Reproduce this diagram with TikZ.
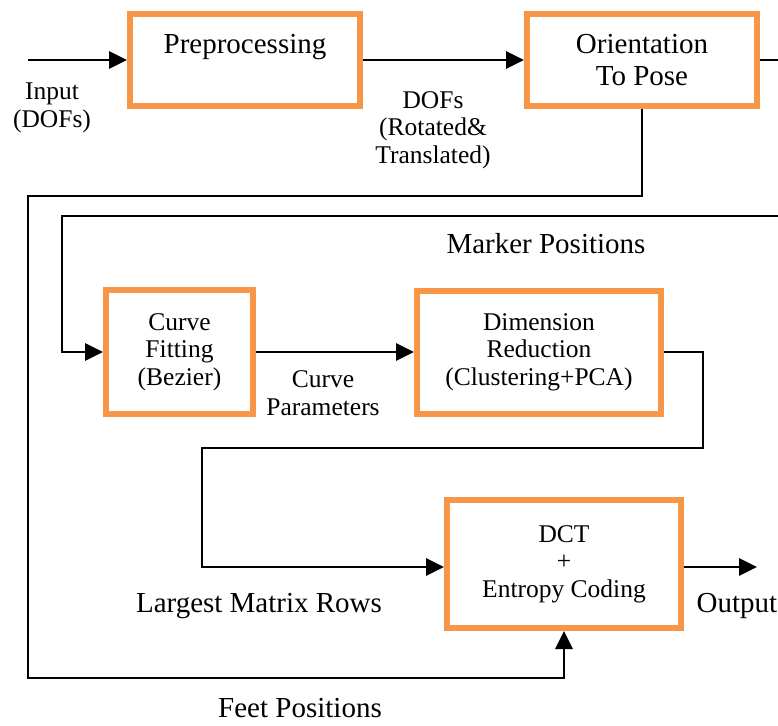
\documentclass[tikz,border=0pt]{standalone}
\usepackage{fontspec}
\setmainfont{Liberation Serif}
\usetikzlibrary{arrows.meta}
\definecolor{boxorange}{RGB}{247,150,70}
\tikzset{
  big/.style={font=\fontsize{29}{32}\selectfont, align=center, inner sep=0pt},
  small/.style={font=\fontsize{25.5}{27.5}\selectfont, align=center, inner sep=0pt},
  stagebox/.style={draw=boxorange, line width=6pt, fill=white, rectangle, inner sep=0pt},
  wire/.style={draw=black, line width=2.8pt},
  flow/.style={wire, -{Triangle[length=18pt,width=17pt]}},
}
\begin{document}
\begin{tikzpicture}[x=1pt,y=-1pt]
\useasboundingbox (0,0) rectangle (778,725);

% processing stages
\node[stagebox, big, minimum width=230pt, minimum height=92pt] (pre) at (245,60) {Preprocessing\\\phantom{P}};
\node[stagebox, big, minimum width=230pt, minimum height=92pt] (orient) at (642,60) {Orientation\\To Pose};
\node[stagebox, small, minimum width=147pt, minimum height=124pt] (curve) at (179.5,352) {Curve\\Fitting\\(Bezier)};
\node[stagebox, small, minimum width=244pt, minimum height=123pt] (dim) at (539,352) {Dimension\\Reduction\\(Clustering+PCA)};
\node[stagebox, small, minimum width=234pt, minimum height=128pt] (dct) at (564,564) {DCT\\+\\Entropy Coding};

% free ends of the connectors
\coordinate (in) at (28,60);
\coordinate (outR) at (778,60);
\coordinate (mk) at (778,216);
\coordinate (out) at (757,567);

% main chain
\draw[flow] (in) -- (pre.west);
\draw[flow] (pre.east) -- (orient.west);
\draw[wire] (orient.east) -- (outR);

% feet positions loop
\draw[flow] (orient.south) -- (642,196) -- (28,196) -- (28,678) -| (dct.south);

% marker positions loop
\draw[flow] (mk) -- (62,216) |- (curve.west);
\draw[flow] (curve.east) -- (dim.west);

% largest matrix rows
\draw[flow] (dim.east) -- (703,352) -- (703,448) -- (202,448) -- (202,567) -- (dct.west |- out);
\draw[flow] (dct.east |- out) -- (out);

% labels
\node[small] (lin) at (52,108) {Input\\(DOFs)};
\node[small] (ldof) at (433,130) {DOFs\\(Rotated\&\\Translated)};
\node[big] (lmark) at (546,244) {Marker Positions};
\node[small] (lcurve) at (323,393) {Curve\\Parameters};
\node[big] (lrows) at (259,606) {Largest Matrix Rows};
\node[big] (lout) at (737,606) {Output};
\node[big] (lfeet) at (300,708) {Feet Positions};
\end{tikzpicture}
\end{document}
